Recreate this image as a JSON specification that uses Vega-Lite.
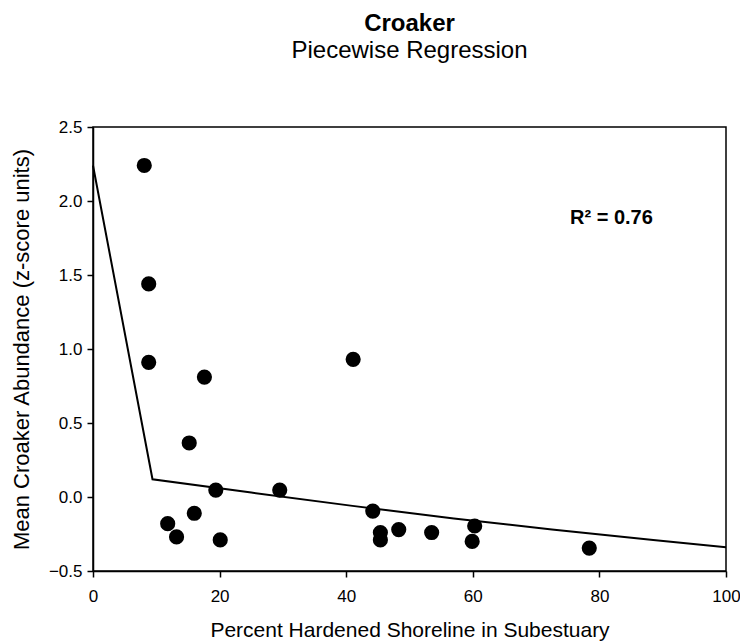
{
  "$schema": "https://vega.github.io/schema/vega-lite/v6.json",
  "autosize": "none",
  "width": 633,
  "height": 444,
  "padding": {"left": 93, "top": 127, "right": 14, "bottom": 73},
  "background": "white",
  "title": {
    "text": "Croaker",
    "subtitle": "Piecewise Regression",
    "anchor": "middle",
    "font": "Liberation Sans",
    "fontSize": 24,
    "fontWeight": "bold",
    "color": "black",
    "subtitleFont": "Liberation Sans",
    "subtitleFontSize": 24,
    "subtitleColor": "black",
    "subtitlePadding": 3,
    "offset": 55
  },
  "config": {
    "view": {"stroke": "black", "strokeWidth": 1.5},
    "axis": {
      "grid": false,
      "domainColor": "black",
      "domainWidth": 1.5,
      "tickColor": "black",
      "tickWidth": 1.5,
      "tickSize": 6,
      "labelFont": "Liberation Sans",
      "labelFontSize": 17,
      "labelColor": "black",
      "labelFlush": false,
      "labelOverlap": false,
      "titleFont": "Liberation Sans",
      "titleFontSize": 21,
      "titleFontWeight": "normal",
      "titleColor": "black"
    }
  },
  "datasets": {
    "points": [
      {"pct": 8.1, "z": 2.24},
      {"pct": 8.8, "z": 1.44},
      {"pct": 8.8, "z": 0.91},
      {"pct": 17.6, "z": 0.81},
      {"pct": 15.2, "z": 0.365},
      {"pct": 19.4, "z": 0.047},
      {"pct": 29.5, "z": 0.047},
      {"pct": 41.1, "z": 0.93},
      {"pct": 11.8, "z": -0.18},
      {"pct": 13.2, "z": -0.27},
      {"pct": 16.0, "z": -0.11},
      {"pct": 20.1, "z": -0.29},
      {"pct": 44.2, "z": -0.095},
      {"pct": 45.4, "z": -0.24},
      {"pct": 45.4, "z": -0.29},
      {"pct": 48.3, "z": -0.22},
      {"pct": 53.5, "z": -0.24},
      {"pct": 60.3, "z": -0.196},
      {"pct": 59.9, "z": -0.30},
      {"pct": 78.4, "z": -0.345}
    ],
    "fit": [
      {"pct": 0, "z": 2.24},
      {"pct": 9.4, "z": 0.12},
      {"pct": 25, "z": 0.03},
      {"pct": 41, "z": -0.06},
      {"pct": 57, "z": -0.145},
      {"pct": 72.5, "z": -0.22},
      {"pct": 88.5, "z": -0.29},
      {"pct": 100, "z": -0.34}
    ],
    "note": [
      {"pct": 81.9, "z": 1.885, "label": "R² = 0.76"}
    ]
  },
  "encoding": {
    "x": {
      "field": "pct",
      "type": "quantitative",
      "scale": {"domain": [0, 100], "nice": false, "zero": false},
      "axis": {
        "title": "Percent Hardened Shoreline in Subestuary",
        "values": [0, 20, 40, 60, 80, 100],
        "titlePadding": 15,
        "labelPadding": 11
      }
    },
    "y": {
      "field": "z",
      "type": "quantitative",
      "scale": {"domain": [-0.5, 2.5], "nice": false, "zero": false},
      "axis": {
        "title": "Mean Croaker Abundance (z-score units)",
        "titleFontSize": 22,
        "values": [-0.5, 0, 0.5, 1, 1.5, 2, 2.5],
        "format": ".1f",
        "titlePadding": 15,
        "labelPadding": 5
      }
    }
  },
  "layer": [
    {
      "data": {"name": "fit"},
      "mark": {"type": "line", "color": "black", "strokeWidth": 2, "interpolate": "linear"}
    },
    {
      "data": {"name": "points"},
      "mark": {"type": "point", "filled": true, "color": "black", "opacity": 1, "size": 230, "shape": "circle"}
    },
    {
      "data": {"name": "note"},
      "mark": {"type": "text", "font": "Liberation Sans", "fontSize": 20, "fontWeight": "bold", "color": "black", "align": "center", "baseline": "middle"},
      "encoding": {"text": {"field": "label"}}
    }
  ]
}
